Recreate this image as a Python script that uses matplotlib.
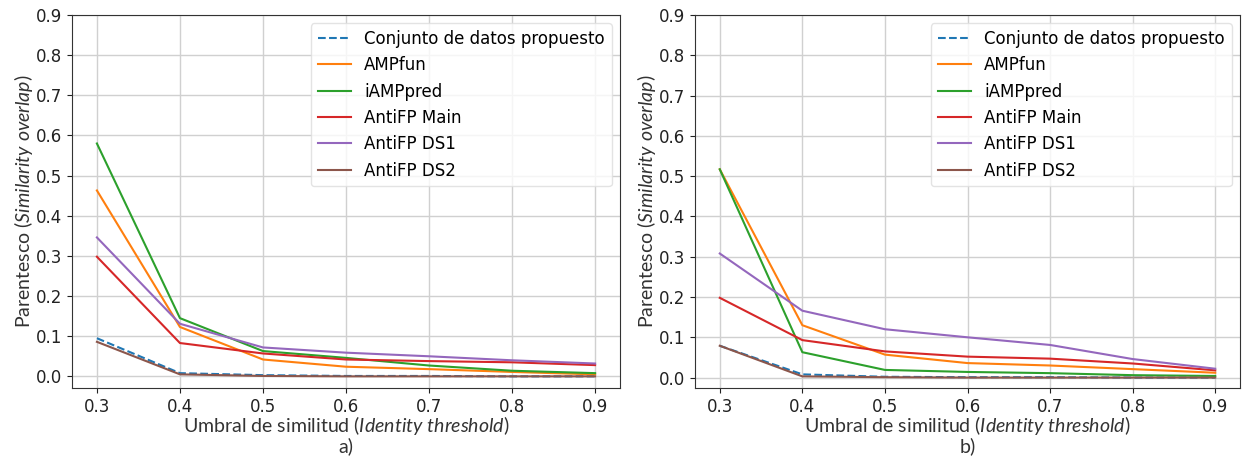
import matplotlib
matplotlib.use("Agg")
import matplotlib.pyplot as plt

plt.rcParams["font.family"] = ["DejaVu Sans"]
plt.rcParams["mathtext.fontset"] = "custom"
plt.rcParams["mathtext.rm"] = "Lato"
plt.rcParams["mathtext.it"] = "Lato:italic"

thresholds = [0.3, 0.4, 0.5, 0.6, 0.7, 0.8, 0.9]
series_names = ["Conjunto de datos propuesto", "AMPfun", "iAMPpred",
                "AntiFP Main", "AntiFP DS1", "AntiFP DS2"]

# Panel a)
a_propuesto = [0.095, 0.008, 0.003, 0.001, 0.001, 0.0, 0.0]
a_ampfun = [0.463, 0.123, 0.042, 0.024, 0.018, 0.011, 0.005]
a_iamppred = [0.580, 0.145, 0.063, 0.046, 0.027, 0.014, 0.008]
a_main = [0.298, 0.083, 0.057, 0.042, 0.038, 0.035, 0.028]
a_ds1 = [0.346, 0.131, 0.072, 0.059, 0.050, 0.040, 0.032]
a_ds2 = [0.086, 0.005, 0.001, 0.0, 0.0, 0.0, 0.0]

# Panel b)
b_propuesto = [0.079, 0.008, 0.002, 0.001, 0.001, 0.0, 0.0]
b_ampfun = [0.517, 0.130, 0.057, 0.036, 0.030, 0.021, 0.012]
b_iamppred = [0.517, 0.063, 0.019, 0.014, 0.011, 0.006, 0.004]
b_main = [0.198, 0.093, 0.065, 0.052, 0.047, 0.035, 0.018]
b_ds1 = [0.308, 0.166, 0.120, 0.100, 0.081, 0.046, 0.022]
b_ds2 = [0.079, 0.003, 0.001, 0.0, 0.0, 0.0, 0.0]

panels = [
    ("a)", [a_propuesto, a_ampfun, a_iamppred, a_main, a_ds1, a_ds2]),
    ("b)", [b_propuesto, b_ampfun, b_iamppred, b_main, b_ds1, b_ds2]),
]
colors = ["#1f77b4", "#ff7f0e", "#2ca02c", "#d62728", "#9467bd", "#8c564b"]
styles = ["--", "-", "-", "-", "-", "-"]

label_font = "Lato"
xlabel_text = "Umbral de similitud $\\it{(Identity\\ threshold)}$"
ylabel_text = "Parentesco $\\it{(Similarity\\ overlap)}$"

fig = plt.figure(figsize=(12.46, 4.74), dpi=100)
positions = [
    [72 / 1246, 1 - 388 / 474, (620 - 72) / 1246, (388 - 15) / 474],
    [695 / 1246, 1 - 388 / 474, (1240 - 695) / 1246, (388 - 15) / 474],
]
for pos, (cap, data) in zip(positions, panels):
    ax = fig.add_axes(pos)
    for name, vals, c, ls in zip(series_names, data, colors, styles):
        ax.plot(thresholds, vals, color=c, linestyle=ls, linewidth=1.5, label=name)
    ax.set_ylim(top=0.9)
    ax.set_yticks([0.0, 0.1, 0.2, 0.3, 0.4, 0.5, 0.6, 0.7, 0.8, 0.9])
    ax.set_xticks(thresholds)
    ax.grid(True, color="#d0d0d0", linewidth=1.0)
    ax.set_axisbelow(True)
    ax.tick_params(labelsize=12, colors="#222222")
    for s in ax.spines.values():
        s.set_color("#333333")
    ax.set_xlabel(xlabel_text, fontsize=14, family=label_font, color="#333333", labelpad=-1)
    ax.set_ylabel(ylabel_text, fontsize=14, family=label_font, color="#333333", labelpad=1)
    ax.legend(loc="upper right", fontsize=12, framealpha=0.8, handlelength=2.0,
              borderaxespad=0.5, edgecolor="#dddddd")
    cx = pos[0] + pos[2] / 2
    fig.text(cx, 1 - 446 / 474, cap, ha="center", va="center", fontsize=14,
             family=label_font, color="#333333")

fig.savefig("out.png", dpi=100)
